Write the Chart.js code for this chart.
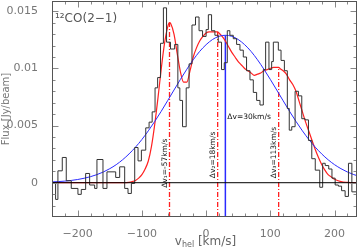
<!DOCTYPE html>
<html>
<head>
<meta charset="utf-8">
<script src="https://cdn.jsdelivr.net/npm/chart.js@4.4.1/dist/chart.umd.min.js"></script>
<style>
  html, body { margin: 0; padding: 0; background: #fff; }
  #wrap { width: 359px; height: 249px; }
</style>
</head>
<body>
<div id="wrap"><canvas id="spectrum"></canvas></div>
<script>
// observed spectrum: channel start velocity [km/s] and flux [Jy/beam]
var histVel = [-243, -239.6, -234.4, -230.8, -224, -217.8, -210, -199.6, -194.4, -187.6,
  -181.4, -173.6, -170, -160.6, -154.4, -140.8, -134.6, -126.8, -121.6, -116.4,
  -111.2, -106, -100.8, -94, -88.8, -84, -79.5, -75.5, -71, -66.5,
  -61.6, -55.5, -49, -44, -40.9, -36.7, -31, -26.5, -22, -16.5,
  -11, -5.5, 0, 3.5, 8.5, 13.7, 18.9, 24, 28.3, 33,
  37, 42.3, 47.5, 52.7, 57.9, 63, 68.3, 73.5, 78.7, 83.9,
  89.1, 92.7, 97.9, 102.1, 104.7, 112.5, 116.7, 121.9, 126.5, 129.5,
  133.4, 138.6, 143.8, 149, 154.2, 159.4, 164.6, 170, 177, 181.5,
  185.5, 191, 196, 201, 206, 211, 216.5, 221.7, 227, 232, 240];
var histFlux = [0.00125, -0.00225, 0.0, -0.00146, 0.00104, 0.00221, 0.00017, -0.0005, -0.00102, -0.00059,
  0.00081, -0.0002, -0.0005, 0.00203, -0.0005, 0.00095, 0.00046, 0.00139, -0.0005, -0.00094,
  -0.00006, 0.00308, 0.00191, 0.00285, 0.0048, 0.0053, 0.0062, 0.0083, 0.0092, 0.0122,
  0.0153, 0.0123, 0.0117, 0.0121, 0.0083, 0.0072, 0.0049, 0.0083, 0.0104, 0.0138,
  0.0145, 0.0133, 0.0128, 0.0134, 0.0147, 0.0133, 0.0129, 0.0123, 0.0099, 0.0105,
  0.0133, 0.0129, 0.0126, 0.0121, 0.0116, 0.0110, 0.0098, 0.0090, 0.0079, 0.0072,
  0.0068, 0.0099, 0.0123, 0.0099, 0.0106, 0.0123, 0.0116, 0.0107, 0.0098, 0.0065,
  0.0046, 0.0049, 0.0080, 0.0076, 0.0056, 0.0055, 0.0037, 0.0021, 0.0011, -0.0004,
  0.0017, 0.0015, 0.0012, 0.0004, -0.0002, -0.0003, -0.0007, -0.0012, 0.0017, -0.0008, -0.0008];

// three component fit (red)
var fitVel = [-240, -230, -220, -210, -200, -190, -180, -170, -160, -150, -140, -130,
  -120, -115, -110, -105, -100, -95, -90, -85, -80, -75, -70, -65, -60,
  -57, -55, -50, -45, -40, -35, -30, -25, -20, -15, -10, -5, 0, 5, 10, 15,
  18, 20, 25, 30, 35, 40, 45, 50, 55, 60, 65, 70, 75, 80, 85, 90, 95, 100, 105, 110,
  113, 115, 120, 125, 130, 135, 140, 145, 150, 155, 160, 165, 170, 175, 180, 185, 190, 195, 200,
  210, 220, 230, 240];
var fitFlux = [0, 0, 0, 0, 0, 0, 0, 0, 0, 0, 0, 0,
  0.00003, 0.0001, 0.0002, 0.0004, 0.0007, 0.0012, 0.0019, 0.0032, 0.0051, 0.0074, 0.0099, 0.0121, 0.0136,
  0.0140, 0.0139, 0.0130, 0.0113, 0.0097, 0.0088, 0.0088, 0.0098, 0.0110, 0.0118, 0.0124, 0.0128, 0.0131, 0.0132, 0.0132, 0.0132,
  0.0132, 0.0131, 0.0128, 0.0124, 0.0119, 0.0114, 0.0110, 0.0106, 0.0103, 0.0100, 0.0098, 0.0096, 0.0094, 0.0095, 0.0096, 0.0098, 0.0099, 0.0100, 0.0101, 0.0101,
  0.0101, 0.0100, 0.0098, 0.0095, 0.0090, 0.0086, 0.0080, 0.0071, 0.0062, 0.0053, 0.0045, 0.0037, 0.0029, 0.0022, 0.0016, 0.0011, 0.0007, 0.0005, 0.0003,
  0.0001, 0.00003, 0, 0];

// single gaussian (blue)
var gaussVel = [-240, -230, -220, -210, -200, -190, -180, -170, -160, -150, -140, -130, -120, -110, -100, -90, -80,
  -70, -60, -50, -40, -30, -20, -10, 0, 10, 20, 30, 40, 50, 60, 70, 80,
  90, 100, 110, 120, 130, 140, 150, 160, 170, 180, 190, 200, 210, 220, 230, 240];
var gaussFlux = [0.00007, 0.0001, 0.00014, 0.0002, 0.00028, 0.00039, 0.00053, 0.00071, 0.00094, 0.00123, 0.00158, 0.00201, 0.00252, 0.00311, 0.00378, 0.00454, 0.00536,
  0.00624, 0.00717, 0.00811, 0.00904, 0.00993, 0.01076, 0.01149, 0.01208, 0.01253, 0.01281, 0.0129, 0.01281, 0.01253, 0.01208, 0.01149, 0.01076,
  0.00993, 0.00904, 0.00811, 0.00717, 0.00624, 0.00536, 0.00454, 0.00378, 0.00311, 0.00252, 0.00201, 0.00158, 0.00123, 0.00094, 0.00071, 0.00053];

// component centres
var compVel = [-57, 18, 113];
var compPeak = [0.0140, 0.0132, 0.0101];
var compLabel = ["Δv₁=-57km/s", "Δv₂=18km/s", "Δv₃=113km/s"];
var compLabelAt = [-0.00045, 0.0004, 0.0004];
var centreVel = 30;
var centrePeak = 0.0129;
var centreLabel = "Δv=30km/s";

var xTicks = [-200, -100, 0, 100, 200];
var yTicks = [0, 0.005, 0.01, 0.015];
var xMin = -240, xMax = 235, yMin = -0.003, yMax = 0.0159;

function pts(xs, ys) {
  return xs.map(function (x, i) { return { x: x, y: ys[i] }; });
}

var dashDot = [5, 2, 1, 2];
var datasets = [
  { data: [{ x: xMin, y: 0 }, { x: xMax, y: 0 }], borderColor: '#000', borderWidth: 1 },
  { data: pts(histVel, histFlux), borderColor: '#333', borderWidth: 1, stepped: 'after' },
  { data: pts(gaussVel, gaussFlux), borderColor: '#2a2aff', borderWidth: 1, cubicInterpolationMode: 'monotone' },
  { data: pts(fitVel, fitFlux), borderColor: '#ff2020', borderWidth: 1.2, cubicInterpolationMode: 'monotone' },
  { data: [{ x: centreVel, y: yMin }, { x: centreVel, y: centrePeak }], borderColor: '#2a2aff', borderWidth: 1.5 }
];
compVel.forEach(function (v, i) {
  datasets.push({ data: [{ x: v, y: yMin }, { x: v, y: compPeak[i] }],
    borderColor: '#ff2020', borderWidth: 1.3, borderDash: dashDot });
});

var decor = {
  id: 'decor',
  afterDatasetsDraw: function (chart) {
    var ctx = chart.ctx, a = chart.chartArea;
    var xs = chart.scales.x, ys = chart.scales.y;
    var L = Math.round(a.left) + 0.5, R = Math.round(a.right) - 0.5;
    var T = Math.round(a.top) + 0.5, B = Math.round(a.bottom) - 0.5;
    ctx.save();
    // inward ticks on all four sides
    ctx.strokeStyle = '#888';
    ctx.lineWidth = 1;
    ctx.beginPath();
    for (var v = -220; v <= 220; v += 20) {
      var px = Math.round(xs.getPixelForValue(v)) + 0.5;
      var len = v % 100 === 0 ? 6 : 3;
      ctx.moveTo(px, B); ctx.lineTo(px, B - len);
      ctx.moveTo(px, T); ctx.lineTo(px, T + len);
    }
    for (var k = -2; k <= 15; k++) {
      var py = Math.round(ys.getPixelForValue(k / 1000)) + 0.5;
      var l2 = k % 5 === 0 ? 6 : 3;
      ctx.moveTo(L, py); ctx.lineTo(L + l2, py);
      ctx.moveTo(R, py); ctx.lineTo(R - l2, py);
    }
    ctx.stroke();
    ctx.strokeStyle = '#555';
    ctx.strokeRect(L, T, R - L, B - T);

    // component labels
    ctx.fillStyle = '#111';
    ctx.font = '7.5px "DejaVu Sans"';
    ctx.textAlign = 'left';
    ctx.textBaseline = 'alphabetic';
    compVel.forEach(function (v, i) {
      ctx.save();
      ctx.translate(xs.getPixelForValue(v) - 3, ys.getPixelForValue(compLabelAt[i]));
      ctx.rotate(-Math.PI / 2);
      ctx.fillText(compLabel[i], 0, 0);
      ctx.restore();
    });
    ctx.fillText(centreLabel, xs.getPixelForValue(centreVel) + 2, ys.getPixelForValue(0.0056));

    // line name
    ctx.fillStyle = '#555';
    ctx.font = '12px "DejaVu Sans"';
    ctx.fillText('¹²CO(2−1)', a.left + 3, a.top + 21);

    // x title with subscript
    ctx.fillStyle = '#666';
    var big = '12px "DejaVu Sans"', small = '8px "DejaVu Sans"';
    ctx.font = big; var w1 = ctx.measureText('v').width;
    ctx.font = small; var w2 = ctx.measureText('hel').width;
    ctx.font = big; var w3 = ctx.measureText(' [km/s]').width;
    var x0 = (a.left + a.right) / 2 - (w1 + w2 + w3) / 2 + 1;
    var yb = chart.height - 4;
    ctx.fillText('v', x0, yb);
    ctx.font = small; ctx.fillText('hel', x0 + w1, yb + 2);
    ctx.font = big; ctx.fillText(' [km/s]', x0 + w1 + w2, yb);
    ctx.restore();
  }
};

new Chart(document.getElementById('spectrum'), {
  type: 'line',
  data: { datasets: datasets },
  options: {
    responsive: true,
    maintainAspectRatio: false,
    animation: false,
    layout: { padding: { top: 1, right: 2, left: 0, bottom: 0 } },
    elements: { point: { radius: 0 }, line: { tension: 0 } },
    plugins: { legend: { display: false }, tooltip: { enabled: false } },
    scales: {
      x: {
        type: 'linear', min: xMin, max: xMax,
        grid: { display: false }, border: { display: false },
        afterBuildTicks: function (s) { s.ticks = xTicks.map(function (v) { return { value: v }; }); },
        afterFit: function (s) { s.height = 32; s.paddingLeft = 0; s.paddingRight = 0; },
        ticks: {
          autoSkip: false, maxRotation: 0, padding: 3, color: '#777',
          font: { family: 'DejaVu Sans', size: 11 },
          callback: function (v) { return v < 0 ? '−' + (-v) : String(v); }
        }
      },
      y: {
        min: yMin, max: yMax,
        grid: { display: false }, border: { display: false },
        afterBuildTicks: function (s) { s.ticks = yTicks.map(function (v) { return { value: v }; }); },
        afterFit: function (s) { s.width = 52; s.paddingTop = 0; s.paddingBottom = 0; },
        ticks: {
          autoSkip: false, padding: 6, color: '#777',
          font: { family: 'DejaVu Sans', size: 11 },
          callback: function (v) { return String(v); }
        },
        title: {
          display: true, text: 'Flux [Jy/beam]', color: '#777',
          font: { family: 'DejaVu Sans', size: 10 }, padding: { top: 0, bottom: 0 }
        }
      }
    }
  },
  plugins: [decor]
});
</script>
</body>
</html>
